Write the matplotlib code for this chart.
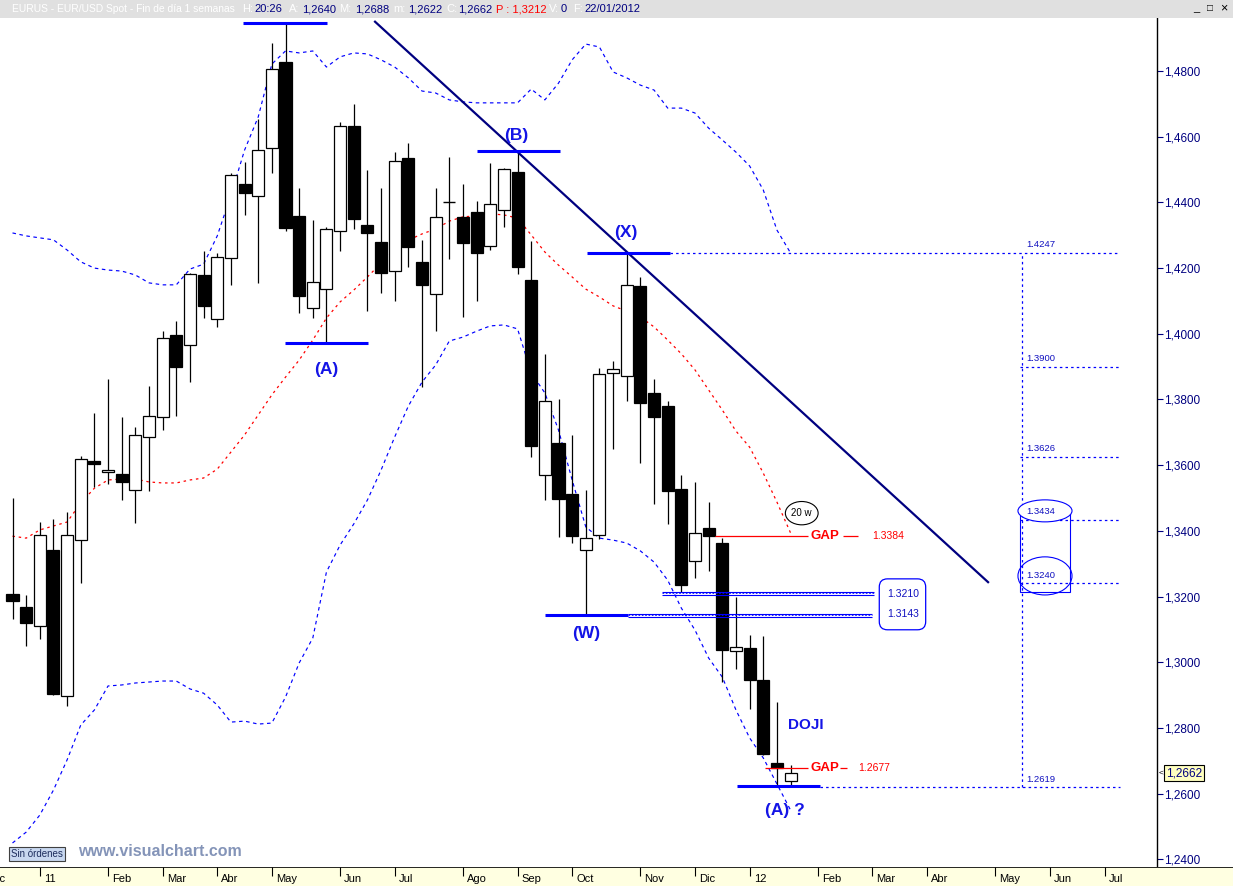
import matplotlib
matplotlib.use('Agg')
import matplotlib.pyplot as plt
from matplotlib.patches import Rectangle, Ellipse, FancyBboxPatch
from matplotlib.ticker import FuncFormatter

plt.rcParams['font.family'] = ['Liberation Sans', 'DejaVu Sans']

# ---------------- data (weekly EUR/USD candles, index = week number) ----------------
opens = [1.3208, 1.3168, 1.3110, 1.3342, 1.2897, 1.3372, 1.3613, 1.3579, 1.3573, 1.3524,
         1.3686, 1.3747, 1.3996, 1.3966, 1.4179, 1.4045, 1.4231, 1.4456, 1.4419, 1.4566,
         1.4827, 1.4359, 1.4079, 1.4136, 1.4313, 1.4633, 1.4331, 1.4279, 1.4191, 1.4535,
         1.4219, 1.4121, 1.4401, 1.4356, 1.4371, 1.4267, 1.4377, 1.4493, 1.4164, 1.3570,
         1.3668, 1.3512, 1.3342, 1.3388, 1.3881, 1.3872, 1.4146, 1.3820, 1.3780, 1.3528,
         1.3308, 1.3409, 1.3363, 1.3034, 1.3044, 1.2946, 1.2693, 1.2640]
highs = [1.3500, 1.3205, 1.3427, 1.3436, 1.3458, 1.3628, 1.3759, 1.3862, 1.3747, 1.3716,
         1.3841, 1.4009, 1.4039, 1.4185, 1.4252, 1.4246, 1.4489, 1.4523, 1.4654, 1.4885,
         1.4946, 1.4444, 1.4346, 1.4325, 1.4645, 1.4700, 1.4499, 1.4444, 1.4553, 1.4581,
         1.4286, 1.4444, 1.4538, 1.4456, 1.4404, 1.4520, 1.4505, 1.4556, 1.4282, 1.3939,
         1.3802, 1.3692, 1.3524, 1.3896, 1.3917, 1.4246, 1.4173, 1.3862, 1.3795, 1.3570,
         1.3549, 1.3488, 1.3378, 1.3199, 1.3083, 1.3080, 1.2879, 1.2688]
lows = [1.3132, 1.3050, 1.3071, 1.2900, 1.2867, 1.3241, 1.3534, 1.3543, 1.3494, 1.3424,
        1.3521, 1.3707, 1.3750, 1.3853, 1.4048, 1.4021, 1.4149, 1.4362, 1.4155, 1.4490,
        1.4313, 1.4063, 1.4048, 1.3972, 1.4252, 1.4319, 1.4069, 1.4124, 1.4100, 1.4203,
        1.3838, 1.4009, 1.4228, 1.4051, 1.4100, 1.4255, 1.4325, 1.4182, 1.3625, 1.3494,
        1.3381, 1.3363, 1.3144, 1.3375, 1.3649, 1.3795, 1.3607, 1.3482, 1.3421, 1.3214,
        1.3257, 1.3278, 1.2940, 1.2980, 1.2858, 1.2718, 1.2623, 1.2622]
closes = [1.3187, 1.3120, 1.3388, 1.2903, 1.3388, 1.3619, 1.3605, 1.3585, 1.3549, 1.3692,
          1.3750, 1.3987, 1.3899, 1.4182, 1.4085, 1.4234, 1.4483, 1.4429, 1.4560, 1.4806,
          1.4322, 1.4115, 1.4158, 1.4319, 1.4633, 1.4349, 1.4307, 1.4185, 1.4526, 1.4264,
          1.4149, 1.4356, 1.4401, 1.4276, 1.4246, 1.4395, 1.4502, 1.4203, 1.3658, 1.3795,
          1.3497, 1.3385, 1.3378, 1.3878, 1.3893, 1.4149, 1.3789, 1.3747, 1.3521, 1.3235,
          1.3394, 1.3384, 1.3037, 1.3047, 1.2946, 1.2721, 1.2677, 1.2662]

bb_upper = [1.4307, 1.4298, 1.4292, 1.4286, 1.4255, 1.4219, 1.4200, 1.4194, 1.4191, 1.4179,
            1.4155, 1.4149, 1.4149, 1.4197, 1.4212, 1.4298, 1.4422, 1.4559, 1.4660, 1.4821,
            1.4861, 1.4855, 1.4861, 1.4812, 1.4843, 1.4855, 1.4852, 1.4834, 1.4812, 1.4779,
            1.4739, 1.4733, 1.4712, 1.4706, 1.4703, 1.4703, 1.4703, 1.4703, 1.4745, 1.4712,
            1.4763, 1.4834, 1.4882, 1.4873, 1.4797, 1.4779, 1.4757, 1.4742, 1.4687, 1.4687,
            1.4672, 1.4626, 1.4590, 1.4553, 1.4511, 1.4438, 1.4316, 1.4246]
ma20 = [1.3384, 1.3378, 1.3403, 1.3415, 1.3427, 1.3485, 1.3530, 1.3555, 1.3558, 1.3558,
        1.3549, 1.3546, 1.3546, 1.3555, 1.3561, 1.3588, 1.3640, 1.3692, 1.3753, 1.3814,
        1.3868, 1.3920, 1.3981, 1.4048, 1.4097, 1.4133, 1.4173, 1.4215, 1.4258, 1.4285,
        1.4304, 1.4319, 1.4343, 1.4356, 1.4359, 1.4365, 1.4362, 1.4352, 1.4301, 1.4249,
        1.4209, 1.4173, 1.4136, 1.4112, 1.4085, 1.4069, 1.4051, 1.4021, 1.3981, 1.3939,
        1.3890, 1.3829, 1.3768, 1.3704, 1.3655, 1.3576, 1.3488, 1.3394]
bb_lower = [1.2450, 1.2483, 1.2535, 1.2611, 1.2703, 1.2809, 1.2855, 1.2928, 1.2931, 1.2937,
            1.2940, 1.2943, 1.2943, 1.2919, 1.2906, 1.2870, 1.2818, 1.2821, 1.2812, 1.2815,
            1.2894, 1.2998, 1.3074, 1.3275, 1.3357, 1.3421, 1.3494, 1.3585, 1.3686, 1.3780,
            1.3853, 1.3905, 1.3978, 1.3990, 1.4008, 1.4024, 1.4027, 1.4015, 1.3881, 1.3820,
            1.3707, 1.3555, 1.3412, 1.3378, 1.3372, 1.3363, 1.3339, 1.3305, 1.3250, 1.3165,
            1.3098, 1.3013, 1.2955, 1.2855, 1.2770, 1.2709, 1.2630, 1.2550]

month_tick_idx = [-2, 2, 7, 11, 15, 19, 24, 28, 33, 37, 41, 46, 50, 54, 59, 63, 67, 72, 76, 80]
month_labels = ['Dic', '11', 'Feb', 'Mar', 'Abr', 'May', 'Jun', 'Jul', 'Ago', 'Sep', 'Oct',
                'Nov', 'Dic', '12', 'Feb', 'Mar', 'Abr', 'May', 'Jun', 'Jul']
price_ticks = [1.24, 1.26, 1.28, 1.30, 1.32, 1.34, 1.36, 1.38, 1.40, 1.42, 1.44, 1.46, 1.48]

fib_levels = [1.4247, 1.3900, 1.3626, 1.3434, 1.3240, 1.2619]
fib_labels = ['1.4247', '1.3900', '1.3626', '1.3434', '1.3240', '1.2619']

trend_x = [26.56, 71.47]
trend_y = [1.4950, 1.3244]

# ---------------- figure ----------------
W, H = 1233, 886
fig = plt.figure(figsize=(W / 100, H / 100), dpi=100)
fig.patch.set_facecolor('white')

X0, X1 = -0.916, 83.846
Y0, Y1 = 1.23769, 1.49613
ax = fig.add_axes([0, 19 / H, 1157 / W, 849 / H])
ax.set_xlim(X0, X1)
ax.set_ylim(Y0, Y1)
ax.set_facecolor('white')
for s in ['left', 'top', 'bottom']:
    ax.spines[s].set_visible(False)
ax.spines['right'].set_color('black')
ax.spines['right'].set_linewidth(1.0)
ax.set_xticks([])
ax.yaxis.tick_right()
ax.set_yticks(price_ticks)
ax.yaxis.set_major_formatter(FuncFormatter(lambda v, p: f"{v:.4f}".replace('.', ',')))
ax.tick_params(axis='y', direction='out', length=4, width=0.8, color='#000080',
               labelcolor='#000080', labelsize=8.5, pad=1)

NAVY = '#000080'
BLUE = '#0000FF'
LBLUE = '#1414E6'
RED = '#FF0000'

idx = list(range(len(opens)))

# bands and MA
ax.plot(idx, bb_upper, color=BLUE, lw=0.85, dashes=(3, 3), zorder=2)
ax.plot(idx, bb_lower, color=BLUE, lw=0.85, dashes=(3, 3), zorder=2)
ax.plot(idx, ma20, color=RED, lw=0.9, dashes=(2, 3), zorder=2)

# candles
bw = 0.88
for i in idx:
    o, h, l, c = opens[i], highs[i], lows[i], closes[i]
    ax.vlines(i, l, h, color='black', lw=0.9, zorder=3)
    lo, hi = min(o, c), max(o, c)
    if hi - lo < 1e-6:
        ax.hlines(o, i - bw / 2, i + bw / 2, color='black', lw=1.0, zorder=4)
    else:
        fc = 'black' if c < o else 'white'
        ax.add_patch(Rectangle((i - bw / 2, lo), bw, hi - lo, facecolor=fc,
                               edgecolor='black', lw=0.9, zorder=4))

# trend line
ax.plot(trend_x, trend_y, color=NAVY, lw=1.6, zorder=5)

# wave level lines
wave_lines = [(16.89, 23.04, 1.4946), (19.96, 26.04, 1.3972), (34.03, 40.1, 1.4557),
              (42.09, 48.17, 1.4247), (39.0, 45.09, 1.3144), (53.05, 59.16, 1.2623)]
for xa, xb, yv in wave_lines:
    ax.hlines(yv, xa, xb, color=BLUE, lw=2.2, zorder=6)

lbl = dict(color=LBLUE, fontsize=12.5, fontweight='bold', ha='center', va='center', zorder=7)
ax.text(22.95, 1.3890, '(A)', **lbl)
ax.text(36.94, 1.4605, '(B)', **lbl)
ax.text(44.92, 1.4307, '(X)', **lbl)
ax.text(42.0, 1.3089, '(W)', **lbl)
ax.text(56.59, 1.2550, '(A) ?', **lbl)
ax.text(58.1, 1.2809, 'DOJI', color=LBLUE, fontsize=11, fontweight='bold', ha='center',
        va='center', zorder=7)

# dotted projections
dot = dict(color=BLUE, lw=0.9, linestyles=(0, (2, 2.5)), zorder=2)
ax.hlines(1.4247, 48.17, 81.13, **dot)
ax.hlines(1.2619, 59.16, 81.13, **dot)
for lv in fib_levels[1:5]:
    ax.hlines(lv, 73.8, 81.13, **dot)
ax.vlines(73.96, fib_levels[-1], fib_levels[0], **dot)
for lv, tx in zip(fib_levels, fib_labels):
    ax.annotate(tx, (74.3, lv), xytext=(0, 2.5), textcoords='offset points',
                color='#1010C0', fontsize=6.8, ha='left', va='bottom', zorder=7)

# cylinder box around 1.3434 / 1.3240
ax.add_patch(Rectangle((73.81, 1.3214), 3.66, 1.3461 - 1.3214, fill=False,
                       edgecolor=BLUE, lw=0.8, zorder=6))
ax.add_patch(Ellipse((75.64, 1.3461), 3.96, 0.0067, fill=True, facecolor='white',
                     edgecolor=BLUE, lw=0.8, zorder=6))
ax.add_patch(Ellipse((75.64, 1.3263), 3.96, 0.0116, fill=False, edgecolor=BLUE,
                     lw=0.8, zorder=6))

# double lines 1.3210 / 1.3143
dbl = [(47.56, 63.11, 1.3210), (45.09, 62.94, 1.3143)]
for xa, xb, yv in dbl:
    ax.hlines(yv + 0.0004, xa, xb, color=BLUE, lw=0.8, zorder=6)
    ax.hlines(yv - 0.0004, xa, xb, color=BLUE, lw=0.8, zorder=6)
    ax.hlines(yv, xa, xb, color=BLUE, lw=0.6, linestyles=(0, (2, 2)), zorder=6)
ax.add_patch(FancyBboxPatch((63.5, 1.3099), 3.4, 1.3254 - 1.3099,
                            boxstyle='round,pad=0,rounding_size=0.6',
                            mutation_aspect=0.00415, fill=False, edgecolor=BLUE,
                            lw=0.9, zorder=6))
ax.text(65.24, 1.3208, '1.3210', color='#1010C0', fontsize=7.5, ha='center', va='center')
ax.text(65.24, 1.3147, '1.3143', color='#1010C0', fontsize=7.5, ha='center', va='center')

# GAP markers
ax.hlines(1.3384, 51.45, 58.28, color=RED, lw=0.9, zorder=6)
ax.text(58.43, 1.3384, 'GAP', color=RED, fontsize=9.5, fontweight='bold', ha='left', va='center')
ax.hlines(1.3384, 60.84, 61.94, color=RED, lw=0.9, zorder=6)
ax.text(62.97, 1.3384, '1.3384', color=RED, fontsize=7.5, ha='left', va='center')

ax.hlines(1.2677, 55.13, 58.28, color=RED, lw=0.9, zorder=6)
ax.text(58.43, 1.2677, 'GAP', color=RED, fontsize=9.5, fontweight='bold', ha='left', va='center')
ax.hlines(1.2677, 60.62, 61.15, color=RED, lw=0.9, zorder=6)
ax.text(61.94, 1.2677, '1.2677', color=RED, fontsize=7.5, ha='left', va='center')

# 20 w tag
ax.add_patch(Ellipse((57.82, 1.3454), 2.4, 0.0071, fill=True, facecolor='white',
                     edgecolor='black', lw=0.8, zorder=6))
ax.text(57.82, 1.3454, '20 w', color='black', fontsize=7, ha='center', va='center', zorder=7)

# ---------------- frame pieces in pixel coordinates ----------------
def fx(px):
    return px / W

def fy(py):
    return 1 - py / H

# header bar
fig.patches.append(Rectangle((0, fy(18)), 1, 18 / H, transform=fig.transFigure,
                             facecolor='#E0E0E0', edgecolor='none', zorder=0))
header = [("EURUS - EUR/USD Spot - Fin de día 1 semanas", 12, 'white'), ("H:", 242, 'white'),
          ("20:26", 254, NAVY), ("A:", 289, 'white'), ("1,2640", 302, NAVY),
          ("M:", 339, 'white'), ("1,2688", 355, NAVY), ("m:", 393, 'white'),
          ("1,2622", 408, NAVY), ("C:", 446, 'white'), ("1,2662", 458, NAVY),
          ("P : 1,3212", 496, RED), ("V:", 549, 'white'), ("0", 561, NAVY),
          ("F:", 573, 'white'), ("22/01/2012", 584, NAVY)]
for t, px, col in header:
    fs = 7.4 if px == 12 else 8
    fig.text(fx(px), fy(9), t, color=col, fontsize=fs, ha='left', va='center')
fig.text(fx(1196), fy(8), '_', color='black', fontsize=8, ha='center', va='center')
fig.text(fx(1210), fy(8), '\u25A1', color='black', fontsize=7, ha='center', va='center')
fig.text(fx(1224), fy(8), '\u00D7', color='black', fontsize=9, ha='center', va='center')

# bottom time band
axb = fig.add_axes([0, 0, 1, 19 / H])
axb.set_xlim(X0, X0 + W / 13.65)
axb.set_ylim(0, 19)
axb.set_facecolor('#FFFFE1')
for s in axb.spines.values():
    s.set_visible(False)
axb.set_xticks([])
axb.set_yticks([])
axb.axhline(19, color='black', lw=1.2)
for ti, tl in zip(month_tick_idx, month_labels):
    axb.vlines(ti, 10, 19, color='black', lw=0.8)
    axb.text(ti + 0.3, 7.0, tl, color='black', fontsize=8, ha='left', va='center')

# current price tag
fig.text(fx(1159), fy(773), '<', color='black', fontsize=6, ha='left', va='center')
fig.text(fx(1166), fy(773), '1,2662', color=NAVY, fontsize=8.5, ha='left', va='center',
         bbox=dict(boxstyle='square,pad=0.15', facecolor='#FFFFC0', edgecolor='black', lw=0.8))

# Sin órdenes button + watermark
fig.text(fx(11), fy(854), 'Sin órdenes', color='#1C2C5C', fontsize=7, ha='left', va='center',
         bbox=dict(boxstyle='square,pad=0.2', facecolor='#C8D8F0', edgecolor='#404040', lw=0.8))
fig.text(fx(78), fy(852), 'www.visualchart.com', color='#8494B8', fontsize=11.5,
         fontweight='bold', ha='left', va='center')

fig.savefig('out.png', dpi=100)
